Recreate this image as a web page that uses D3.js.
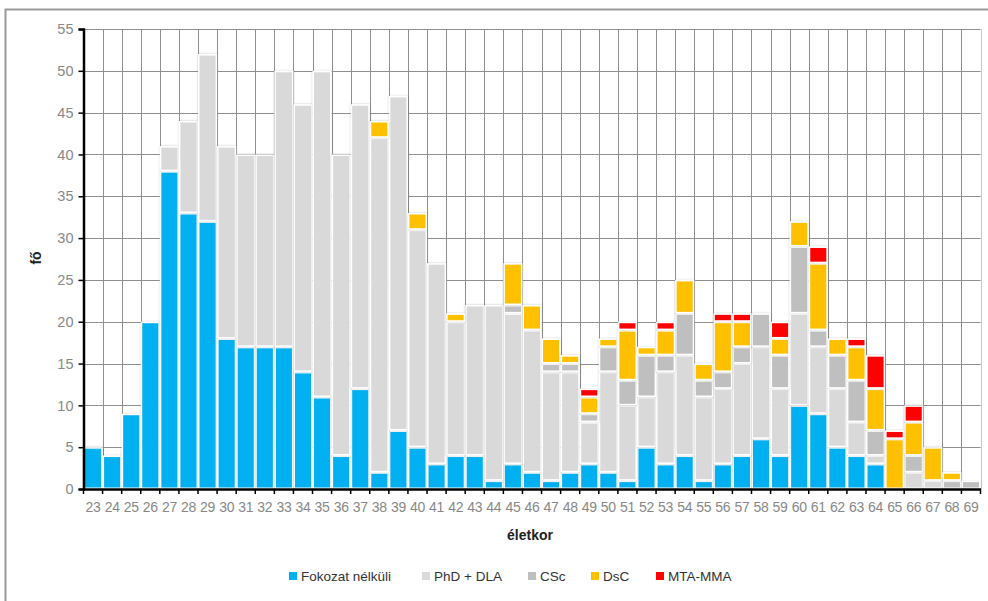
<!DOCTYPE html>
<html>
<head>
<meta charset="utf-8">
<script src="https://cdn.jsdelivr.net/npm/d3@7"></script>
<style>
  html, body { margin: 0; padding: 0; background: #fff; }
  svg { display: block; font-family: "Liberation Sans", Arial, sans-serif; }
</style>
</head>
<body>
<svg id="chart" width="988" height="601"></svg>
<script>
const ages = d3.range(23, 70).map(String);
const seriesNames = ["Fokozat nélküli", "PhD + DLA", "CSc", "DsC", "MTA-MMA"];
const seriesColors = ["#00B0F0", "#D9D9D9", "#BFBFBF", "#FFC000", "#FF0000"];
//                23 24 25 26 27 28 29 30 31 32 33 34 35 36 37 38 39 40 41 42 43 44 45 46 47 48 49 50 51 52 53 54 55 56 57 58 59 60 61 62 63 64 65 66 67 68 69
const fokozat  = [ 5, 4, 9,20,38,33,32,18,17,17,17,14,11, 4,12, 2, 7, 5, 3, 4, 4, 1, 3, 2, 1, 2, 3, 2, 1, 5, 3, 4, 1, 3, 4, 6, 4,10, 9, 5, 4, 3, 0, 0, 0, 0, 0];
const phd      = [ 0, 0, 0, 0, 3,11,20,23,23,23,33,32,39,36,34,40,40,26,24,16,18,21,18,17,13,12, 5,12, 9, 6,11,12,10, 9,11,11, 8,11, 8, 7, 4, 1, 0, 2, 1, 0, 0];
const csc      = [ 0, 0, 0, 0, 0, 0, 0, 0, 0, 0, 0, 0, 0, 0, 0, 0, 0, 0, 0, 0, 0, 0, 1, 0, 1, 1, 1, 3, 3, 5, 2, 5, 2, 2, 2, 4, 4, 8, 2, 4, 5, 3, 0, 2, 0, 1, 1];
const dsc      = [ 0, 0, 0, 0, 0, 0, 0, 0, 0, 0, 0, 0, 0, 0, 0, 2, 0, 2, 0, 1, 0, 0, 5, 3, 3, 1, 2, 1, 6, 1, 3, 4, 2, 6, 3, 0, 2, 3, 8, 2, 4, 5, 6, 4, 4, 1, 0];
const mta      = [ 0, 0, 0, 0, 0, 0, 0, 0, 0, 0, 0, 0, 0, 0, 0, 0, 0, 0, 0, 0, 0, 0, 0, 0, 0, 0, 1, 0, 1, 0, 1, 0, 0, 1, 1, 0, 2, 0, 2, 0, 1, 4, 1, 2, 0, 0, 0];
const yTicks = [0, 5, 10, 15, 20, 25, 30, 35, 40, 45, 50, 55];
const xTitle = "életkor";
const yTitle = "fő";

const seriesValues = [fokozat, phd, csc, dsc, mta];
const table = ages.map((a, i) => {
  const row = { age: a };
  seriesNames.forEach((n, k) => row[n] = seriesValues[k][i]);
  return row;
});

const svg = d3.select("#chart");
const pLeft = 83.5, pRight = 980.5, pTop = 29, pBottom = 489;

const x = d3.scaleBand().domain(ages).range([pLeft, pRight]).padding(0);
const y = d3.scaleLinear().domain([0, 55]).range([pBottom, pTop]);

// outer frame
svg.append("rect").attr("x", 5.5).attr("y", 9.5).attr("width", 1000).attr("height", 600)
  .attr("fill", "#fff").attr("stroke", "#9a9a9a").attr("stroke-width", 2);

// gridlines
const grid = svg.append("g");
grid.selectAll("line.h").data(yTicks).join("line")
  .attr("x1", pLeft).attr("x2", pRight)
  .attr("y1", d => Math.round(y(d)) + 0.5).attr("y2", d => Math.round(y(d)) + 0.5)
  .attr("stroke", "#8f8f8f").attr("stroke-width", 1);
grid.selectAll("line.v").data(ages.slice(1)).join("line")
  .attr("x1", d => Math.round(x(d)) + 0.5).attr("x2", d => Math.round(x(d)) + 0.5)
  .attr("y1", pTop).attr("y2", pBottom)
  .attr("stroke", "#8f8f8f").attr("stroke-width", 1);
grid.append("line").attr("x1", Math.round(pRight) + 0.5).attr("x2", Math.round(pRight) + 0.5)
  .attr("y1", pTop).attr("y2", pBottom).attr("stroke", "#c8c8c8");

// stacked bars
const stack = d3.stack().keys(seriesNames)(table);
const color = d3.scaleOrdinal().domain(seriesNames).range(seriesColors);

const defs = svg.append("defs");
const f = defs.append("filter").attr("id", "sh").attr("x", "-20%").attr("y", "-20%").attr("width", "140%").attr("height", "140%");
f.append("feGaussianBlur").attr("in", "SourceAlpha").attr("stdDeviation", 1.2).attr("result", "b");
f.append("feComponentTransfer").attr("in", "b").attr("result", "b2")
  .append("feFuncA").attr("type", "linear").attr("slope", 0.25);
const m = f.append("feMerge");
m.append("feMergeNode").attr("in", "b2");
m.append("feMergeNode").attr("in", "SourceGraphic");

svg.append("g").selectAll("g").data(stack).join("g")
  .attr("fill", d => color(d.key))
  .selectAll("rect").data(d => d.filter(s => s[1] - s[0] > 0)).join("rect")
  .attr("x", d => x(d.data.age) + 0.75)
  .attr("width", x.bandwidth() - 1.5)
  .attr("y", d => y(d[1]) + 0.75)
  .attr("height", d => y(d[0]) - y(d[1]) - 1.5)
  .attr("stroke", "#fff").attr("stroke-width", 1.5)
  .attr("filter", "url(#sh)");

// y axis
const yAxis = svg.append("g").attr("transform", `translate(${pLeft},0)`)
  .call(d3.axisLeft(y).tickValues(yTicks).tickSize(5).tickPadding(5));
yAxis.select(".domain").attr("stroke", "#000").attr("stroke-width", 2.5);
yAxis.selectAll(".tick line").attr("stroke", "#000").attr("stroke-width", 1.5);
yAxis.selectAll(".tick text").attr("fill", "#888").attr("font-size", 14.5)
  .attr("font-family", "Liberation Sans, Arial, sans-serif");

// x axis
const xAxis = svg.append("g").attr("transform", `translate(0,${pBottom})`)
  .call(d3.axisBottom(x).tickSize(0).tickPadding(13));
xAxis.select(".domain").attr("stroke", "#000").attr("stroke-width", 2.5);
xAxis.selectAll(".tick text").attr("fill", "#888").attr("font-size", 14)
  .attr("font-family", "Liberation Sans, Arial, sans-serif")
  .attr("letter-spacing", "-0.3px");
// boundary tick marks
xAxis.append("g").selectAll("line").data(ages.concat(["end"])).join("line")
  .attr("x1", (d, i) => i < ages.length ? x(d) : pRight)
  .attr("x2", (d, i) => i < ages.length ? x(d) : pRight)
  .attr("y1", 0).attr("y2", 5).attr("stroke", "#000").attr("stroke-width", 1.5);

// axis titles
svg.append("text").attr("x", 530).attr("y", 540).attr("text-anchor", "middle")
  .attr("font-weight", "bold").attr("font-size", 14).attr("fill", "#222").text(xTitle);
svg.append("text").attr("transform", "translate(41,258) rotate(-90)").attr("text-anchor", "middle")
  .attr("font-weight", "bold").attr("font-size", 14).attr("fill", "#222").text(yTitle);

// legend
const legendX = [289, 422, 528, 591, 656];
const lg = svg.append("g").selectAll("g").data(seriesNames).join("g")
  .attr("transform", (d, i) => `translate(${legendX[i]},572)`);
lg.append("rect").attr("width", 8).attr("height", 8).attr("fill", d => color(d));
lg.append("text").attr("x", 12).attr("y", 9).attr("font-size", 13.5).attr("fill", "#333").text(d => d);
</script>
</body>
</html>
